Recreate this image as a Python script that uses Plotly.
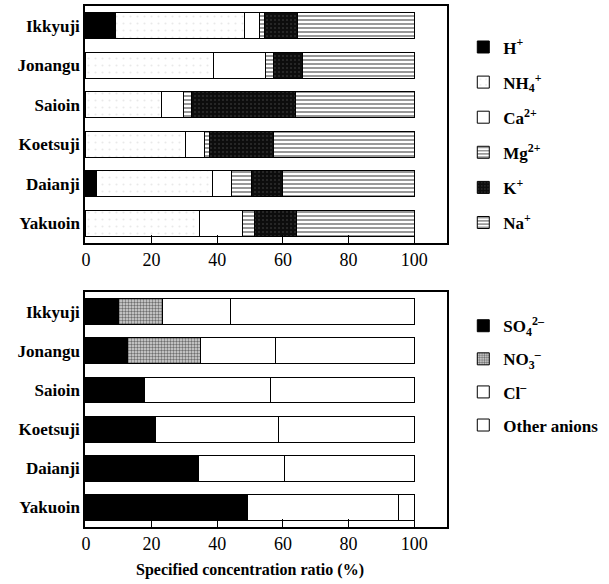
import plotly.graph_objects as go

sites = ["Ikkyuji", "Jonangu", "Saioin", "Koetsuji", "Daianji", "Yakuoin"]

# Cation composition (%)
h_plus = [9.1, 0.0, 0.0, 0.0, 3.3, 0.0]
nh4 = [39.2, 38.8, 22.9, 30.2, 35.3, 34.5]
ca = [4.7, 16.0, 6.8, 5.8, 5.8, 13.2]
mg = [1.4, 2.3, 2.5, 1.6, 6.1, 3.5]
k_plus = [10.0, 8.9, 31.5, 19.5, 9.4, 12.8]
na = [35.6, 34.0, 36.3, 42.9, 40.1, 36.0]

# Anion composition (%)
so4 = [9.9, 12.6, 17.7, 21.3, 34.2, 49.3]
no3 = [13.5, 22.4, 0.0, 0.0, 0.0, 0.0]
cl = [20.5, 22.7, 38.6, 37.3, 26.2, 45.9]
other = [56.1, 42.3, 43.7, 41.4, 39.6, 4.8]

tick_vals = [0, 20, 40, 60, 80, 100]
tick_text = ["0", "20", "40", "60", "80", "100"]

cation_names = ["H<sup>+</sup>", "NH<sub>4</sub><sup>+</sup>", "Ca<sup>2+</sup>",
                "Mg<sup>2+</sup>", "K<sup>+</sup>", "Na<sup>+</sup>"]
anion_names = ["SO<sub>4</sub><sup>2–</sup>", "NO<sub>3</sub><sup>–</sup>",
               "Cl<sup>–</sup>", "Other anions"]

SERIF = "Liberation Serif, Times New Roman, serif"

stripes = dict(shape="-", fgcolor="black", bgcolor="white", size=4, solidity=0.4)

cation_styles = [
    dict(color="black"),
    dict(color="white", pattern=dict(shape=".", fgcolor="#d4d4d4", bgcolor="white", size=7, solidity=0.07)),
    dict(color="white"),
    dict(color="white", pattern=stripes),
    dict(color="#0d0d0d", pattern=dict(shape=".", fgcolor="#505050", bgcolor="#0d0d0d", size=4, solidity=0.2)),
    dict(color="white", pattern=stripes),
]
anion_styles = [
    dict(color="black"),
    dict(color="#888888", pattern=dict(shape=".", fgcolor="black", bgcolor="#dddddd", size=3, solidity=0.5)),
    dict(color="white"),
    dict(color="white"),
]

fig = go.Figure()

for i, (name, vals) in enumerate(zip(cation_names, [h_plus, nh4, ca, mg, k_plus, na])):
    fig.add_trace(go.Bar(
        x=vals, y=sites, orientation="h", name=name,
        marker=dict(line=dict(color="black", width=1), **cation_styles[i]),
        xaxis="x", yaxis="y", legend="legend", legendgroup="c%d" % i,
        hoverinfo="skip",
    ))

for i, (name, vals) in enumerate(zip(anion_names, [so4, no3, cl, other])):
    fig.add_trace(go.Bar(
        x=vals, y=sites, orientation="h", name=name,
        marker=dict(line=dict(color="black", width=1), **anion_styles[i]),
        xaxis="x2", yaxis="y2", legend="legend2", legendgroup="a%d" % i,
        hoverinfo="skip",
    ))

xaxis_common = dict(
    range=[-0.3, 110], tickmode="array", tickvals=tick_vals, ticktext=tick_text,
    ticks="inside", ticklen=8, tickwidth=1, tickcolor="black",
    showline=True, linecolor="black", linewidth=1.5, mirror=True,
    showgrid=False, zeroline=False,
    tickfont=dict(family=SERIF, size=18, color="black"),
)
yaxis_common = dict(
    autorange="reversed", showline=True, linecolor="black", linewidth=1.5, mirror=True,
    showgrid=False, zeroline=False, ticks="",
    tickfont=dict(family=SERIF, size=17, color="black", weight="bold"),
)

legend_common = dict(
    font=dict(family=SERIF, size=17, color="black", weight="bold"),
    bgcolor="rgba(0,0,0,0)", xanchor="left", yanchor="top",
    traceorder="grouped", itemclick=False, itemdoubleclick=False,
)

fig.update_layout(
    width=609, height=584,
    margin=dict(l=85, r=162, t=4, b=57),
    paper_bgcolor="white", plot_bgcolor="white",
    barmode="stack", bargap=0.34,
    showlegend=True,
    xaxis=dict(domain=[0, 1], anchor="y", **xaxis_common),
    yaxis=dict(domain=[0.545, 1], anchor="x", **yaxis_common),
    xaxis2=dict(domain=[0, 1], anchor="y2", **xaxis_common),
    yaxis2=dict(domain=[0, 0.451], anchor="x2", **yaxis_common),
    legend=dict(x=1.045, y=0.955, tracegroupgap=10, **legend_common),
    legend2=dict(x=1.045, y=0.42, tracegroupgap=8, **legend_common),
    annotations=[dict(
        text="Specified concentration ratio (%)", xref="x2", yref="paper",
        x=50, y=0, yanchor="top", yshift=-32, showarrow=False,
        font=dict(family=SERIF, size=16, color="black", weight="bold"),
    )],
)

fig.write_html("out.html", config={"displayModeBar": False},
               post_script="document.body.style.margin='0';")
